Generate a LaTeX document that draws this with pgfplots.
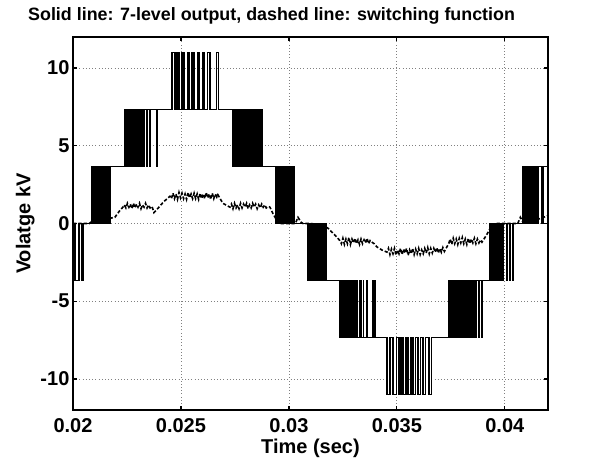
\documentclass[border=0pt]{standalone}
\usepackage{fontspec}
\setmainfont{Liberation Sans}
\usepackage{pgfplots}
\pgfplotsset{compat=1.18}

\begin{document}
\begin{tikzpicture}
\begin{axis}[
    scale only axis,
    width=356.25pt, height=279.75pt,
    xmin=0.02, xmax=0.042,
    ymin=-12, ymax=12,
    scaled x ticks=false, scaled y ticks=false,
    xtick={0.02,0.025,0.03,0.035,0.04},
    xticklabels={0.02,0.025,0.03,0.035,0.04},
    ytick={-10,-5,0,5,10},
    yticklabels={-10,-5,0,5,10},
    tick align=inside,
    major tick length=3pt,
    tick style={black, line width=0.9pt},
    axis line style={black, line width=1.1pt},
    grid=major,
    grid style={dotted, gray, line width=0.6pt},
    font=\fontsize{15pt}{18pt}\selectfont\bfseries,
    xticklabel style={anchor=north, inner sep=0pt, yshift=-6pt},
    yticklabel style={anchor=east, inner sep=0pt, xshift=-2.5pt},
    title={Solid line: 7-level output, dashed line: switching function},
    title style={at={(axis description cs:0.418,1.0241)}, anchor=base,
        font=\fontsize{13.4pt}{16pt}\selectfont\bfseries},
    xlabel={Time (sec)},
    xlabel style={at={(axis description cs:0.5,-0.1153)}, anchor=base},
    ylabel={Volatge kV},
    ylabel style={at={(axis description cs:-0.0896,0.5)}, anchor=base},
]
% 7-level output
\addplot[const plot, black, line width=1.2pt] coordinates {
(0.0200,0)
(0.02009,-3.667) (0.02028,0) (0.02042,-3.667) (0.02048,0)
(0.02088,3.667) (0.02091,0) (0.02095,3.667) (0.02099,0)
(0.02102,3.667) (0.02106,0) (0.02109,3.667) (0.02114,0)
(0.02116,3.667) (0.02121,0) (0.02123,3.667) (0.02129,0)
(0.02131,3.667) (0.02137,0) (0.02139,3.667) (0.02145,0)
(0.02147,3.667) (0.02153,0) (0.02154,3.667) (0.02162,0)
(0.02163,3.667) (0.02170,0) (0.02171,3.667)
(0.02241,7.333) (0.02244,3.667) (0.02248,7.333) (0.02251,3.667)
(0.02255,7.333) (0.02259,3.667) (0.02262,7.333) (0.02266,3.667)
(0.02269,7.333) (0.02274,3.667) (0.02276,7.333) (0.02281,3.667)
(0.02284,7.333) (0.02289,3.667) (0.02291,7.333) (0.02297,3.667)
(0.02299,7.333) (0.02305,3.667) (0.02307,7.333) (0.02313,3.667)
(0.02315,7.333) (0.02322,3.667) (0.02323,7.333) (0.02331,3.667)
(0.02332,7.333) (0.02344,3.667) (0.02345,7.333) (0.02356,3.667)
(0.02357,7.333) (0.02390,3.667) (0.02391,7.333)
(0.024597,11) (0.024722,7.333) (0.024829,11) (0.024921,7.333)
(0.025060,11) (0.025153,7.333) (0.025310,11) (0.025384,7.333)
(0.025523,11) (0.025616,7.333) (0.025773,11) (0.025847,7.333)
(0.026005,11) (0.026079,7.333) (0.026236,11) (0.026343,7.333)
(0.026653,11) (0.026746,7.333)
(0.027384,3.667) (0.02740,7.333)
(0.02750,3.667) (0.02752,7.333) (0.02757,3.667) (0.02760,7.333)
(0.02764,3.667) (0.02768,7.333) (0.02771,3.667) (0.02775,7.333)
(0.02778,3.667) (0.02783,7.333) (0.02786,3.667) (0.02791,7.333)
(0.02793,3.667) (0.02799,7.333) (0.02801,3.667) (0.02807,7.333)
(0.02809,3.667) (0.02815,7.333) (0.02818,3.667) (0.02823,7.333)
(0.02827,3.667) (0.02831,7.333) (0.02836,3.667) (0.02839,7.333)
(0.02845,3.667) (0.02848,7.333) (0.02854,3.667) (0.02856,7.333)
(0.02863,3.667) (0.02865,7.333) (0.02872,3.667) (0.02874,7.333)
(0.02876,3.667)
(0.02940,0) (0.02943,3.667) (0.02947,0) (0.02951,3.667)
(0.02954,0) (0.02958,3.667) (0.02962,0) (0.02965,3.667)
(0.02970,0) (0.02973,3.667) (0.02978,0) (0.02981,3.667)
(0.02986,0) (0.02988,3.667) (0.02994,0) (0.02996,3.667)
(0.03002,0) (0.03004,3.667) (0.03005,0) (0.030139,3.667)
(0.03015,0) (0.03024,3.667) (0.03025,0)
(0.03088,-3.667) (0.03090,0) (0.03095,-3.667) (0.03098,0)
(0.03102,-3.667) (0.03106,0) (0.03109,-3.667) (0.03113,0)
(0.03116,-3.667) (0.03121,0) (0.03124,-3.667) (0.03129,0)
(0.03131,-3.667) (0.03137,0) (0.03139,-3.667) (0.03145,0)
(0.03147,-3.667) (0.03154,0) (0.03155,-3.667) (0.03163,0)
(0.03164,-3.667) (0.03172,0) (0.03173,-3.667)
(0.03236,-7.333) (0.03239,-3.667) (0.03243,-7.333) (0.03246,-3.667)
(0.03250,-7.333) (0.03254,-3.667) (0.03257,-7.333) (0.03261,-3.667)
(0.03264,-7.333) (0.03269,-3.667) (0.03271,-7.333) (0.03276,-3.667)
(0.03279,-7.333) (0.03284,-3.667) (0.03286,-7.333) (0.03292,-3.667)
(0.03294,-7.333) (0.03300,-3.667) (0.03302,-7.333) (0.03308,-3.667)
(0.03310,-7.333) (0.03317,-3.667) (0.03318,-7.333) (0.03326,-3.667)
(0.03327,-7.333) (0.03335,-3.667) (0.03336,-7.333) (0.03345,-3.667)
(0.03346,-7.333) (0.03360,-3.667) (0.03361,-7.333) (0.03389,-3.667)
(0.03390,-7.333) (0.03398,-3.667) (0.03399,-7.333)
(0.034552,-11) (0.034677,-7.333) (0.034830,-11) (0.034987,-7.333)
(0.035093,-11) (0.035186,-7.333) (0.035293,-11) (0.035418,-7.333)
(0.035524,-11) (0.035649,-7.333) (0.035756,-11) (0.035867,-7.333)
(0.035987,-11) (0.036098,-7.333) (0.036219,-11) (0.036330,-7.333)
(0.036497,-11) (0.036608,-7.333)
(0.03741,-3.667) (0.03743,-7.333) (0.03748,-3.667) (0.03751,-7.333)
(0.03755,-3.667) (0.03759,-7.333) (0.03762,-3.667) (0.03766,-7.333)
(0.03770,-3.667) (0.03774,-7.333) (0.03777,-3.667) (0.03782,-7.333)
(0.03785,-3.667) (0.03790,-7.333) (0.03793,-3.667) (0.03798,-7.333)
(0.03801,-3.667) (0.03806,-7.333) (0.03810,-3.667) (0.03814,-7.333)
(0.03819,-3.667) (0.03822,-7.333) (0.03828,-3.667) (0.03831,-7.333)
(0.03837,-3.667) (0.03840,-7.333) (0.03846,-3.667) (0.03848,-7.333)
(0.03855,-3.667) (0.03857,-7.333) (0.03864,-3.667) (0.03866,-7.333)
(0.03867,-3.667) (0.03880,-7.333) (0.03881,-3.667) (0.03894,-7.333)
(0.03895,-3.667)
(0.03931,0) (0.03934,-3.667) (0.03938,0) (0.03942,-3.667)
(0.03946,0) (0.03949,-3.667) (0.03954,0) (0.03957,-3.667)
(0.03962,0) (0.03965,-3.667) (0.03970,0) (0.03972,-3.667)
(0.03978,0) (0.03980,-3.667) (0.03986,0) (0.03988,-3.667)
(0.03992,0) (0.03993,-3.667) (0.03994,0) (0.04008,-3.667)
(0.04009,0) (0.04023,-3.667) (0.04024,0) (0.04038,-3.667)
(0.04039,0)
(0.04082,3.667) (0.04085,0) (0.04089,3.667) (0.04093,0)
(0.04096,3.667) (0.04100,0) (0.04103,3.667) (0.04108,0)
(0.04110,3.667) (0.04115,0) (0.04117,3.667) (0.04123,0)
(0.04125,3.667) (0.04131,0) (0.04133,3.667) (0.04140,0)
(0.04141,3.667) (0.04147,0) (0.04148,3.667) (0.04154,0)
(0.04155,3.667) (0.04170,0) (0.04171,3.667) (0.04177,0)
(0.04178,3.667) (0.04200,3.667)
};
% switching function
\addplot[black, line width=1.2pt, dash pattern=on 2.5pt off 1.5pt] coordinates {
(0.0200,0) (0.02075,0) (0.02085,0.1) (0.02120,0.2) (0.02194,0.4)
(0.02215,0.8) (0.02231,1.05)
(0.02238,1.2) (0.02245,1.0) (0.02252,1.3) (0.02259,1.05) (0.02266,1.25)
(0.02273,0.95) (0.02280,1.3) (0.02287,1.0) (0.02294,1.25) (0.02301,1.05)
(0.02308,1.3) (0.02315,0.95) (0.02322,1.2) (0.02329,1.05) (0.02336,1.3)
(0.02343,1.0) (0.02350,1.2) (0.02357,1.0) (0.02366,1.1)
(0.02375,0.7) (0.02395,1.0) (0.02420,1.4) (0.02449,1.75)
(0.02456,1.6) (0.02463,1.95) (0.02470,1.6) (0.02477,1.9) (0.02484,1.55)
(0.02491,2.0) (0.02498,1.65) (0.02505,1.95) (0.02512,1.6) (0.02519,1.9)
(0.02526,1.55) (0.02533,2.0) (0.02540,1.65) (0.02547,1.9) (0.02554,1.6)
(0.02561,1.95) (0.02568,1.6) (0.02575,1.9) (0.02582,1.55) (0.02589,1.95)
(0.02596,1.6) (0.02603,1.9) (0.02610,1.6) (0.02617,2.0) (0.02624,1.65)
(0.02631,1.9) (0.02638,1.55) (0.02645,1.95) (0.02652,1.6) (0.02659,1.9)
(0.02666,1.7) (0.02671,1.85)
(0.02694,1.3) (0.02727,1.05)
(0.02734,1.25) (0.02741,0.95) (0.02748,1.3) (0.02755,1.0) (0.02762,1.2)
(0.02769,0.95) (0.02776,1.3) (0.02783,1.0) (0.02790,1.25) (0.02797,1.05)
(0.02804,1.3) (0.02811,0.95) (0.02818,1.2) (0.02825,1.0) (0.02832,1.3)
(0.02839,1.05) (0.02846,1.25) (0.02853,0.95) (0.02860,1.2) (0.02867,1.0)
(0.02874,1.25) (0.02881,1.05) (0.02888,1.2) (0.02895,1.0) (0.02905,1.1)
(0.02912,1.05)
(0.02926,0.64) (0.02944,0.2) (0.02958,0) (0.03030,0) (0.03042,0.4)
(0.03055,0.1) (0.03065,0)
(0.03100,0) (0.03130,-0.05) (0.03160,-0.15) (0.03181,-0.3) (0.03210,-0.7)
(0.03236,-1.1)
(0.03243,-1.3) (0.03250,-0.95) (0.03257,-1.35) (0.03264,-1.0) (0.03271,-1.3)
(0.03278,-0.9) (0.03285,-1.35) (0.03292,-1.0) (0.03299,-1.25) (0.03306,-0.95)
(0.03313,-1.3) (0.03320,-1.05) (0.03327,-1.35) (0.03334,-1.0) (0.03341,-1.3)
(0.03348,-1.05) (0.03355,-1.25) (0.03362,-0.95) (0.03369,-1.3) (0.03376,-1.1)
(0.03384,-1.2)
(0.03395,-1.3) (0.03407,-1.5) (0.03430,-1.7) (0.03454,-1.84)
(0.03461,-1.6) (0.03468,-2.0) (0.03475,-1.65) (0.03482,-1.95) (0.03489,-1.6)
(0.03496,-2.05) (0.03503,-1.7) (0.03510,-1.95) (0.03517,-1.6) (0.03524,-2.0)
(0.03531,-1.65) (0.03538,-1.9) (0.03545,-1.6) (0.03552,-2.05) (0.03559,-1.7)
(0.03566,-1.95) (0.03573,-1.6) (0.03580,-2.0) (0.03587,-1.65) (0.03594,-1.95)
(0.03601,-1.6) (0.03608,-2.0) (0.03615,-1.7) (0.03622,-1.95) (0.03629,-1.6)
(0.03636,-1.9) (0.03643,-1.55) (0.03650,-1.95) (0.03657,-1.6) (0.03664,-1.9)
(0.03671,-1.6) (0.03678,-1.85) (0.03685,-1.55) (0.03692,-1.9) (0.03699,-1.6)
(0.03706,-1.85) (0.03713,-1.55) (0.03720,-1.8) (0.03732,-1.5)
(0.03740,-1.3)
(0.03747,-1.0) (0.03754,-1.35) (0.03761,-0.95) (0.03768,-1.3) (0.03775,-1.0)
(0.03782,-1.35) (0.03789,-0.95) (0.03796,-1.25) (0.03803,-0.9) (0.03810,-1.3)
(0.03817,-1.0) (0.03824,-1.35) (0.03831,-0.95) (0.03838,-1.3) (0.03845,-1.0)
(0.03852,-1.25) (0.03859,-0.95) (0.03866,-1.3) (0.03873,-1.0) (0.03880,-1.25)
(0.03887,-1.05) (0.03894,-1.2)
(0.03908,-0.9) (0.03921,-0.6) (0.03940,-0.1) (0.03960,0) (0.04060,0)
(0.04072,0.4) (0.04085,0.05) (0.04100,0.1) (0.04130,0.2) (0.04160,0.3)
(0.04200,0.5)
};
\end{axis}
\pgfresetboundingbox
\path[use as bounding box] ([shift={(-54.75pt,-39pt)}]current axis.south west)
    rectangle ([shift={(48pt,27.75pt)}]current axis.north east);
\end{tikzpicture}
\end{document}
